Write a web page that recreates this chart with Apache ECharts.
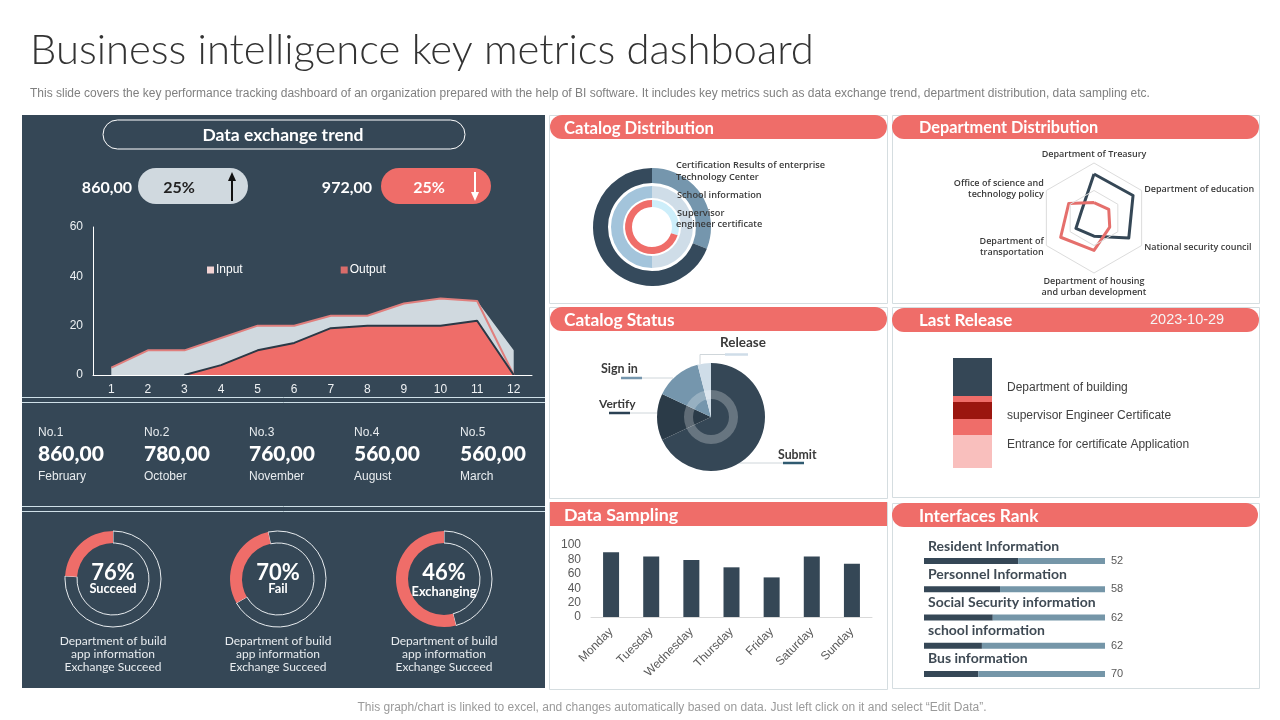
<!DOCTYPE html>
<html>
<head>
<meta charset="utf-8">
<title>Business intelligence key metrics dashboard</title>
<script src="https://cdn.jsdelivr.net/npm/echarts@6/dist/echarts.min.js"></script>
<style>
html, body { margin: 0; padding: 0; background: #fff; }
#main { width: 1280px; height: 720px; }
</style>
</head>
<body>
<div id="main"></div>
<script>
// data
const months = ['1', '2', '3', '4', '5', '6', '7', '8', '9', '10', '11', '12'];
const inputValues = [3, 10, 10, 15, 20, 20, 24, 24, 29, 31, 30, 10];
const inputEdge = [3, 10, 10, 15, 20, 20, 24, 24, 29, 31, 30, 0];
const outputValues = [null, null, 0, 4, 10, 13, 19, 20, 20, 20, 22, 0];

const rankNames = ['No.1', 'No.2', 'No.3', 'No.4', 'No.5'];
const rankValues = ['860,00', '780,00', '760,00', '560,00', '560,00'];
const rankMonths = ['February', 'October', 'November', 'August', 'March'];

const donutPercents = [76, 70, 46];
const donutNames = ['Succeed', 'Fail', 'Exchanging'];

const catalogOuter = [31, 69];
const catalogMiddle = [50, 50];
const catalogInner = [30, 70];

// radar runs counter-clockwise from the top
const radarNames = ['Department of Treasury', 'Office of science and\ntechnology policy', 'Department of\ntransportation',
    'Department of housing\nand urban development', 'National security council', 'Department of education'];
const radarDark = [80, 26, 38, 33, 73, 82];
const radarRed = [28, 53, 70, 59, 33, 31];

const statusNames = ['Submit', 'Vertify', 'Sign in', 'Release'];
const statusValues = [68, 14, 14, 4];

const releaseValues = [33, 16, 17, 6, 38];
const releaseColors = ['#f9bfbd', '#ef6d69', '#9b160f', '#ef6d69', '#354756'];

const days = ['Monday', 'Tuesday', 'Wednesday', 'Thursday', 'Friday', 'Saturday', 'Sunday'];
const samplingValues = [90, 84, 79, 69, 55, 84, 74];

const interfaceNames = ['Resident Information', 'Personnel Information', 'Social Security information', 'school information', 'Bus information'];
const interfaceDark = [52, 42, 38, 32, 30];
const interfaceLight = [48, 58, 62, 68, 70];
const interfaceLabels = ['52', '58', '62', '62', '70'];

const DARK = '#354756';
const RED = '#ef6d69';
const BORDER = '#d5dde0';
const HEAD = 'Lato';
const BODY = '"Liberation Sans"';

function txt(x, y, text, size, fill, o) {
    o = o || {};
    return {
        type: 'text', x: x, y: y, z: o.z || 20, silent: true,
        style: {
            text: text, fill: fill, fontSize: size,
            fontFamily: o.font || BODY, fontWeight: o.weight || 'normal',
            textAlign: o.align || 'left', textVerticalAlign: 'middle',
            align: o.align || 'left', verticalAlign: 'middle', lineHeight: o.lh
        }
    };
}
function box(x, y, w, h, o) {
    return {
        type: 'rect', z: o.z || 1, silent: true,
        shape: { x: x, y: y, width: w, height: h, r: o.r || 0 },
        style: { fill: o.fill || 'transparent', stroke: o.stroke, lineWidth: o.lw || 1 }
    };
}
function seg(x1, y1, x2, y2, color, w) {
    return {
        type: 'line', z: 5, silent: true,
        shape: { x1: x1, y1: y1, x2: x2, y2: y2 },
        style: { stroke: color, lineWidth: w || 1 }
    };
}
function head(color, points) {
    return { type: 'polygon', z: 6, silent: true, shape: { points: points }, style: { fill: color } };
}

const graphics = [
    txt(30, 51, 'Business intelligence key metrics dashboard', 41.8, '#333', { font: HEAD, weight: 300 }),
    txt(30, 94, 'This slide covers the key performance tracking dashboard of an organization prepared with the help of BI software. It includes key metrics such as data exchange trend, department distribution, data sampling etc.', 12, '#7f7f7f'),
    txt(672, 708, 'This graph/chart is linked to excel, and changes automatically based on data. Just left click on it and select \u201cEdit Data\u201d.', 12, '#9a9a9a', { align: 'center' }),

    // left dark panel, two pairs of thin rules split it in three
    box(22, 115, 523, 573, { fill: DARK }),
    seg(22, 397.5, 545, 397.5, '#cfe0e8'), seg(22, 402.5, 545, 402.5, '#cfe0e8'),
    seg(22, 506.5, 545, 506.5, '#cfe0e8'), seg(22, 511.5, 545, 511.5, '#cfe0e8'),
    box(103, 120, 362, 29, { r: 14.5, stroke: '#fff', z: 3 }),
    txt(283, 135, 'Data exchange trend', 17.5, '#fff', { font: HEAD, weight: 700, align: 'center' }),

    txt(132, 188, '860,00', 16, '#fff', { font: HEAD, weight: 700, align: 'right' }),
    box(138, 168, 110, 36, { r: 18, fill: '#d0d9df', z: 3 }),
    txt(179, 188, '25%', 16, '#222', { font: HEAD, weight: 700, align: 'center' }),
    seg(232, 178, 232, 201, '#111', 2),
    head('#111', [[232, 172], [228, 181], [236, 181]]),
    txt(372, 188, '972,00', 16, '#fff', { font: HEAD, weight: 700, align: 'right' }),
    box(381, 168, 110, 36, { r: 18, fill: RED, z: 3 }),
    txt(429, 188, '25%', 16, '#fff', { font: HEAD, weight: 700, align: 'center' }),
    seg(475, 172, 475, 195, '#fff', 2),
    head('#fff', [[475, 201], [471, 192], [479, 192]]),

    // cards
    box(549.5, 115.5, 338, 188, { stroke: BORDER }),
    box(892.5, 115.5, 367, 188, { stroke: BORDER }),
    box(549.5, 307.5, 338, 191, { stroke: BORDER }),
    box(892.5, 307.5, 367, 190, { stroke: BORDER }),
    box(549.5, 502.5, 338, 187, { stroke: BORDER }),
    box(892.5, 503.5, 367, 185, { stroke: BORDER }),

    box(550, 115, 337, 24, { r: 12, fill: RED, z: 3 }),
    box(892, 115, 367, 24, { r: 12, fill: RED, z: 3 }),
    box(550, 307, 337, 24, { r: 12, fill: RED, z: 3 }),
    box(892, 308, 367, 24, { r: 12, fill: RED, z: 3 }),
    box(550, 502, 337, 24, { fill: RED, z: 3 }),
    box(892, 503, 366, 24, { r: 12, fill: RED, z: 3 }),

    txt(564, 129, 'Catalog Distribution', 16.7, '#fff', { font: HEAD, weight: 700 }),
    txt(919, 128, 'Department Distribution', 16.3, '#fff', { font: HEAD, weight: 700 }),
    txt(564, 320, 'Catalog Status', 17.3, '#fff', { font: HEAD, weight: 700 }),
    txt(919, 321, 'Last Release', 17, '#fff', { font: HEAD, weight: 700 }),
    txt(1150, 320, '2023-10-29', 14.5, '#f5f5f5'),
    txt(564, 515, 'Data Sampling', 17.8, '#fff', { font: HEAD, weight: 700 }),
    txt(919, 516, 'Interfaces Rank', 17.3, '#fff', { font: HEAD, weight: 700 }),

    // catalog distribution notes
    txt(676, 165, 'Certification Results of enterprise', 9.2, '#3a3a3a', { font: '"Open Sans"', weight: 600 }),
    txt(676, 177, 'Technology Center', 9.2, '#3a3a3a', { font: '"Open Sans"', weight: 600 }),
    txt(677, 195, 'School information', 9.2, '#3a3a3a', { font: '"Open Sans"', weight: 600 }),
    txt(677, 213, 'Supervisor', 9.2, '#3a3a3a', { font: '"Open Sans"', weight: 600 }),
    txt(676, 224, 'engineer certificate', 9.2, '#3a3a3a', { font: '"Open Sans"', weight: 600 }),

    // catalog status leaders
    txt(720, 343, statusNames[3], 13.5, '#3a3a3a', { font: HEAD, weight: 700 }),
    seg(700, 364, 700, 354.5, '#cfd6da'), seg(700, 354.5, 725, 354.5, '#cfd6da'), seg(725, 354.5, 748, 354.5, '#cfdde8', 2.5),
    txt(601, 369, statusNames[2], 12.5, '#3a3a3a', { font: HEAD, weight: 700 }),
    seg(621, 378, 642, 378, '#7596ad', 2.5), seg(642, 378, 673, 378, '#cfd6da'),
    txt(599, 404, statusNames[1], 12, '#3a3a3a', { font: HEAD, weight: 700 }),
    seg(609, 413, 630, 413, '#2b4254', 2.5), seg(630, 413, 657, 413, '#cfd6da'),
    txt(778, 455, statusNames[0], 12.3, '#3a3a3a', { font: HEAD, weight: 700 }),
    seg(783, 463, 804, 463, '#2f5a70', 2.5), seg(738, 463, 783, 463, '#cfd6da'),

    // last release labels
    txt(1007, 388, 'Department of building', 12, '#404040'),
    txt(1007, 416, 'supervisor Engineer Certificate', 12, '#404040'),
    txt(1007, 445, 'Entrance for certificate Application', 12, '#404040')
];

// ranking row
const rankX = [38, 144, 249, 354, 460];
rankNames.forEach(function (name, i) {
    graphics.push(txt(rankX[i], 433, name, 12, '#e8ecef'));
    graphics.push(txt(rankX[i], 454, rankValues[i], 21, '#fff', { font: HEAD, weight: 900 }));
    graphics.push(txt(rankX[i], 477, rankMonths[i], 12, '#e8ecef'));
});

// donut captions
const donutX = [113, 278, 444];
const donutStart = [90, 102, 90];
donutPercents.forEach(function (p, i) {
    graphics.push(txt(donutX[i], 573, p + '%', 22, '#fff', { font: HEAD, weight: 700, align: 'center' }));
    graphics.push(txt(donutX[i], i === 2 ? 592 : 589, donutNames[i], 12.8, '#fff', { font: HEAD, weight: 700, align: 'center' }));
    graphics.push(txt(donutX[i], 641, 'Department of build', 12, '#e8ecef', { font: HEAD, align: 'center' }));
    graphics.push(txt(donutX[i], 654, 'app information', 12, '#e8ecef', { font: HEAD, align: 'center' }));
    graphics.push(txt(donutX[i], 667, 'Exchange Succeed', 12, '#e8ecef', { font: HEAD, align: 'center' }));
});

function pie(center, radius, values, colors, start) {
    return {
        type: 'pie', center: center, radius: radius, startAngle: start === undefined ? 90 : start,
        silent: true, label: { show: false }, labelLine: { show: false }, z: 6,
        data: values.map(function (v, i) { return { value: v, itemStyle: { color: colors[i] } }; })
    };
}

const series = [
    {
        name: 'Input', type: 'line', xAxisIndex: 0, yAxisIndex: 0, data: inputValues,
        showSymbol: false, lineStyle: { width: 0 }, itemStyle: { color: '#f2d3d3' },
        areaStyle: { color: '#d0d9df', opacity: 1 }, z: 12
    },
    {
        name: 'InputEdge', type: 'line', xAxisIndex: 0, yAxisIndex: 0, data: inputEdge,
        showSymbol: false, lineStyle: { width: 2, color: '#e07f7d' }, itemStyle: { color: '#e07f7d' }, z: 13
    },
    {
        name: 'Output', type: 'line', xAxisIndex: 0, yAxisIndex: 0, data: outputValues,
        showSymbol: false, lineStyle: { width: 2, color: '#2b3946' }, itemStyle: { color: '#d96c6a' },
        areaStyle: { color: RED, opacity: 1 }, z: 14
    },
    {
        type: 'bar', xAxisIndex: 1, yAxisIndex: 1, data: samplingValues, barWidth: 16,
        itemStyle: { color: DARK }
    },
    {
        type: 'bar', xAxisIndex: 2, yAxisIndex: 2, stack: 'rank', data: interfaceDark, barWidth: 6,
        itemStyle: { color: DARK },
        label: {
            show: true, position: [4, -19], color: '#3f4a54', fontFamily: HEAD, fontWeight: 700, fontSize: 14,
            formatter: function (p) { return interfaceNames[p.dataIndex]; }
        }
    },
    {
        type: 'bar', xAxisIndex: 2, yAxisIndex: 2, stack: 'rank', data: interfaceLight, barWidth: 6,
        itemStyle: { color: '#7596a8' },
        label: {
            show: true, position: 'right', color: '#595959', fontFamily: BODY, fontSize: 11, distance: 6,
            formatter: function (p) { return interfaceLabels[p.dataIndex]; }
        }
    },
    {
        type: 'radar', radarIndex: 0, symbol: 'none',
        data: [
            { value: radarDark, lineStyle: { color: '#354756', width: 3 } },
            { value: radarRed, lineStyle: { color: '#e56f6c', width: 3 } }
        ]
    },
    pie([652, 227], [44, 59], catalogOuter, ['#7596ad', '#354a5c']),
    pie([652, 227], [29, 41], catalogMiddle, ['#cfdde8', '#a3c4db']),
    pie([652, 227], [20, 27], catalogInner, ['#cdeefa', RED]),
    pie([711, 417], [0, 54], statusValues, ['#354756', '#2b3b48', '#7596ad', '#cfdde8']),
    pie([711, 417], [18, 27], [1], ['rgba(255,255,255,0.25)'])
];

// the three thin-ringed donuts
donutPercents.forEach(function (p, i) {
    series.push({
        type: 'pie', center: [donutX[i], 579], radius: [36, 48], startAngle: donutStart[i],
        silent: true, label: { show: false }, labelLine: { show: false }, z: 6,
        data: [
            { value: p, itemStyle: { color: 'transparent', borderColor: '#e8ecef', borderWidth: 1 } },
            { value: 100 - p, itemStyle: { color: RED } }
        ]
    });
});

// single stacked column for last release
releaseValues.forEach(function (v, i) {
    series.push({
        type: 'bar', xAxisIndex: 3, yAxisIndex: 3, stack: 'release', data: [v], barWidth: 39,
        itemStyle: { color: releaseColors[i] }
    });
});

const option = {
    animation: false,
    backgroundColor: '#fff',
    legend: {
        data: ['Input', 'Output'], left: 202, top: 259, itemGap: 98, itemWidth: 7, itemHeight: 7, icon: 'rect', z: 20,
        textStyle: { color: '#fff', fontSize: 12, fontFamily: BODY, padding: [0, 0, 0, -3] }
    },
    grid: [
        { left: 93, top: 227, width: 439, height: 148 },
        { left: 591, top: 545, width: 281, height: 72 },
        { left: 924, top: 547, width: 181, height: 141 },
        { left: 953, top: 358, width: 39, height: 110 }
    ],
    xAxis: [
        {
            type: 'category', gridIndex: 0, data: months, z: 15,
            axisLine: { lineStyle: { color: '#fff' } }, axisTick: { lineStyle: { color: '#fff' }, length: 4 },
            axisLabel: { color: '#eef1f3', fontSize: 12, fontFamily: BODY, interval: 0, margin: 9 }
        },
        {
            type: 'category', gridIndex: 1, data: days,
            axisLine: { lineStyle: { color: '#d9d9d9' } }, axisTick: { lineStyle: { color: '#d9d9d9' }, length: 3 },
            axisLabel: { color: '#595959', fontSize: 12, fontFamily: BODY, rotate: 45, interval: 0, margin: 13 }
        },
        { type: 'value', gridIndex: 2, min: 0, max: 100, show: false },
        { type: 'category', gridIndex: 3, data: ['release'], show: false }
    ],
    yAxis: [
        {
            type: 'value', gridIndex: 0, min: 0, max: 60, interval: 20, splitLine: { show: false }, z: 15,
            axisLine: { show: true, lineStyle: { color: '#fff' } }, axisTick: { show: false },
            axisLabel: { color: '#eef1f3', fontSize: 12, fontFamily: BODY, margin: 10 }
        },
        {
            type: 'value', gridIndex: 1, min: 0, max: 100, interval: 20, splitLine: { show: false },
            axisLine: { show: false }, axisTick: { show: false },
            axisLabel: { color: '#595959', fontSize: 12, fontFamily: BODY, margin: 10 }
        },
        { type: 'category', gridIndex: 2, data: interfaceNames, inverse: true, show: false },
        { type: 'value', gridIndex: 3, min: 0, max: 110, show: false }
    ],
    radar: {
        center: [1094, 218], radius: 55, splitNumber: 2, shape: 'polygon', nameGap: 3, z: 5,
        axisName: { color: '#3a3a3a', fontSize: 9, fontFamily: '"Open Sans"', fontWeight: 600, lineHeight: 11 },
        axisLine: { show: false }, axisTick: { show: false },
        splitLine: { lineStyle: { color: '#dcdcdc' } }, splitArea: { show: false },
        indicator: radarNames.map(function (n) { return { name: n, max: 100 }; })
    },
    graphic: { elements: graphics },
    series: series
};

const chart = echarts.init(document.getElementById('main'));
chart.setOption(option);
</script>
</body>
</html>
